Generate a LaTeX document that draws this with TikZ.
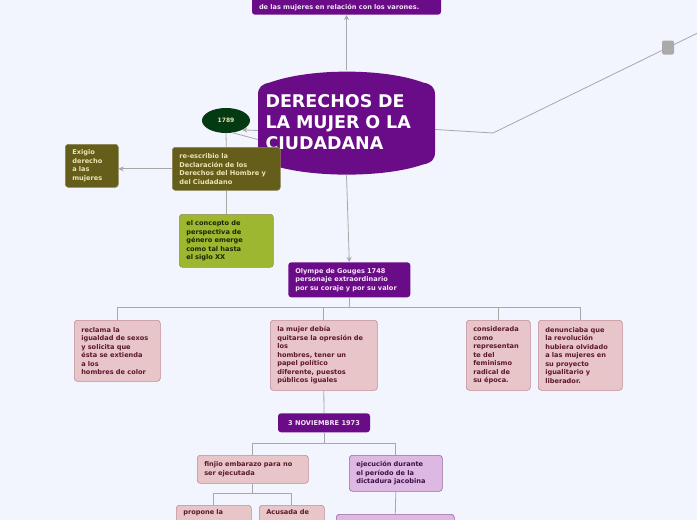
\documentclass[tikz,border=0pt]{standalone}
\usepackage{fontspec}
\setmainfont{DejaVu Sans}
\usepackage{tikz}
\usetikzlibrary{shapes.geometric, arrows.meta, positioning, calc}
\definecolor{mmbg}{RGB}{242,245,253}
\definecolor{mmpurple}{RGB}{106,11,135}
\definecolor{mmlight}{RGB}{246,228,248}
\definecolor{mmolive}{RGB}{101,93,26}
\definecolor{mmcream}{RGB}{236,228,180}
\definecolor{mmlime}{RGB}{157,183,48}
\definecolor{mmlimetext}{RGB}{28,38,6}
\definecolor{mmyear}{RGB}{3,58,18}
\definecolor{mmpink}{RGB}{232,197,201}
\definecolor{mmpinkedge}{RGB}{192,138,148}
\definecolor{mmpinktext}{RGB}{92,24,42}
\definecolor{mmlilac}{RGB}{220,184,226}
\definecolor{mmlilacedge}{RGB}{152,104,162}
\definecolor{mmlilactext}{RGB}{62,16,72}
\definecolor{mmline}{RGB}{168,168,168}
\definecolor{mmhub}{RGB}{170,170,170}
\tikzset{
  topic/.style={rectangle, anchor=north west, align=left, rounded corners=3pt,
    inner xsep=7pt, inner ysep=4pt, font=\fontsize{6.6}{8.5}\selectfont\bfseries,
    line width=0.6pt},
  pinkbox/.style={topic, draw=mmpinkedge, fill=mmpink, text=mmpinktext},
  lilacbox/.style={topic, draw=mmlilacedge, fill=mmlilac, text=mmlilactext},
  purplebox/.style={topic, fill=mmpurple, text=mmlight},
  olivebox/.style={topic, draw=mmolive!75!white, fill=mmolive, text=mmcream},
  limebox/.style={topic, draw=mmolive!70, fill=mmlime, text=mmlimetext},
  yearnode/.style={ellipse, fill=mmyear, text=mmcream, minimum width=48pt,
    minimum height=25pt, inner sep=0pt, font=\fontsize{6}{7}\selectfont\bfseries},
  link/.style={draw=mmline, line width=0.8pt},
  arrowlink/.style={link, -{Stealth[length=5pt, width=5pt]}}
}

\begin{document}
\begin{tikzpicture}[x=1pt, y=-1pt]
  \fill[mmbg] (0,0) rectangle (697,520);
  \useasboundingbox (0,0) rectangle (697,520);

  % Central topic
  \fill[mmpurple] (258,95) -- (258,152) .. controls (258,160) and (262,163) .. (270,164.5)
    .. controls (310,178) and (384,178) .. (423,164.5)
    .. controls (431,163) and (435,160) .. (435,152) -- (435,95)
    .. controls (435,87) and (431,84) .. (423,82.5)
    .. controls (384,68) and (310,68) .. (270,82.5)
    .. controls (262,84) and (258,87) .. cycle;
  \node[font=\fontsize{17.5}{21}\selectfont\bfseries, text=white, text width=162pt,
    align=left, minimum width=177pt, minimum height=104pt, inner sep=0pt]
    (title) at (346.5,122.5) {DERECHOS DE\\LA MUJER O LA\\CIUDADANA};

  % Upper and left branches
  \node[purplebox, anchor=south, text width=175pt] (topnote) at (346.5,15)
    {\mbox{}\\de las mujeres en relación con los varones.};
  \node[yearnode] (year) at (226,120.5) {1789};
  \node[olivebox, text width=94pt, minimum height=43pt] (rewrote) at (172,147)
    {re-escribio la\\Declaración de los\\Derechos del Hombre y\\del Ciudadano};
  \node[olivebox, text width=39pt, minimum height=43pt] (exigio) at (65,144)
    {Exigio\\derecho\\a las\\mujeres};
  \node[limebox, text width=80pt, minimum height=53pt] (concept) at (179,214)
    {el concepto de\\perspectiva de\\género emerge\\como tal hasta\\el siglo XX};

  % Right branch
  \node[fill=mmhub, rounded corners=2pt, minimum width=12pt, minimum height=14pt,
    inner sep=0pt] (hub) at (668,47.5) {};
  \coordinate (bend) at (493,133);
  \coordinate (edgeout) at (712,26);

  % Olympe de Gouges
  \node[purplebox, text width=108pt, minimum height=35pt] (olympe) at (288,262)
    {Olympe de Gouges 1748\\personaje extraordinario\\por su coraje y por su valor};
  \node[pinkbox, text width=72pt, minimum height=61pt] (claim) at (74,320)
    {reclama la\\igualdad de sexos\\y solicita que\\ésta se extienda\\a los\\hombres de color};
  \node[pinkbox, text width=93pt, minimum height=70pt] (oppression) at (270,320)
    {la mujer debía\\quitarse la opresión de\\los\\hombres, tener un\\papel político\\diferente, puestos\\públicos iguales};
  \node[pinkbox, text width=50pt, minimum height=70pt] (radical) at (466,320)
    {considerada\\como\\representan\\te del\\feminismo\\radical de\\su época.};
  \node[pinkbox, text width=70pt, minimum height=70pt] (denounce) at (538,320)
    {denunciaba que\\la revolución\\hubiera olvidado\\a las mujeres en\\su proyecto\\igualitario y\\liberador.};

  % 3 noviembre
  \node[purplebox, anchor=north, align=center, minimum width=92pt, minimum height=19pt,
    inner xsep=0pt] (nov) at (324,413) {3 NOVIEMBRE 1973};
  \node[pinkbox, text width=97pt, minimum height=28pt] (pregnancy) at (197,455)
    {finjio embarazo para no\\ser ejecutada};
  \node[lilacbox, text width=79pt, minimum height=36pt] (execution) at (349,455)
    {ejecución durante\\el período de la\\dictadura jacobina};
  \node[pinkbox, text width=61pt] (propose) at (176,505) {propone la\\\mbox{}\\\mbox{}};
  \node[pinkbox, text width=51pt] (accused) at (259,505) {Acusada de\\\mbox{}\\\mbox{}};
  \node[lilacbox, text width=104pt, minimum height=20pt] (aftermath) at (336,514) {};

  % Connectors
  \draw[arrowlink] (title.north) -- (topnote.south);
  \draw[arrowlink] (title.south) -- (olympe.north);
  \draw[arrowlink] ([yshift=-8pt]title.west) -- (year.-30);
  \draw[link] (year.-62) -- ([yshift=-17pt]title.west);
  \draw[link] (year.south) -- (rewrote.north);
  \draw[link] (rewrote.south) -- (concept.north);
  \draw[arrowlink] (rewrote.west) -- (rewrote.west -| exigio.east);
  \draw[link] ([yshift=-7pt]title.east) -- (bend) -- (hub) -- (edgeout);
  \foreach \kid in {claim, oppression, radical, denounce}
    \draw[link] (olympe.south) -- ++(0,10) -| (\kid.north);
  \draw[link] (oppression.south) -- (nov.north);
  \foreach \kid in {pregnancy, execution}
    \draw[link] (nov.south) -- ++(0,11) -| (\kid.north);
  \foreach \kid in {propose, accused}
    \draw[link] (pregnancy.south) -- ++(0,10) -| (\kid.north);
  \draw[link] (execution.south) -- (aftermath.north);
\end{tikzpicture}
\end{document}
